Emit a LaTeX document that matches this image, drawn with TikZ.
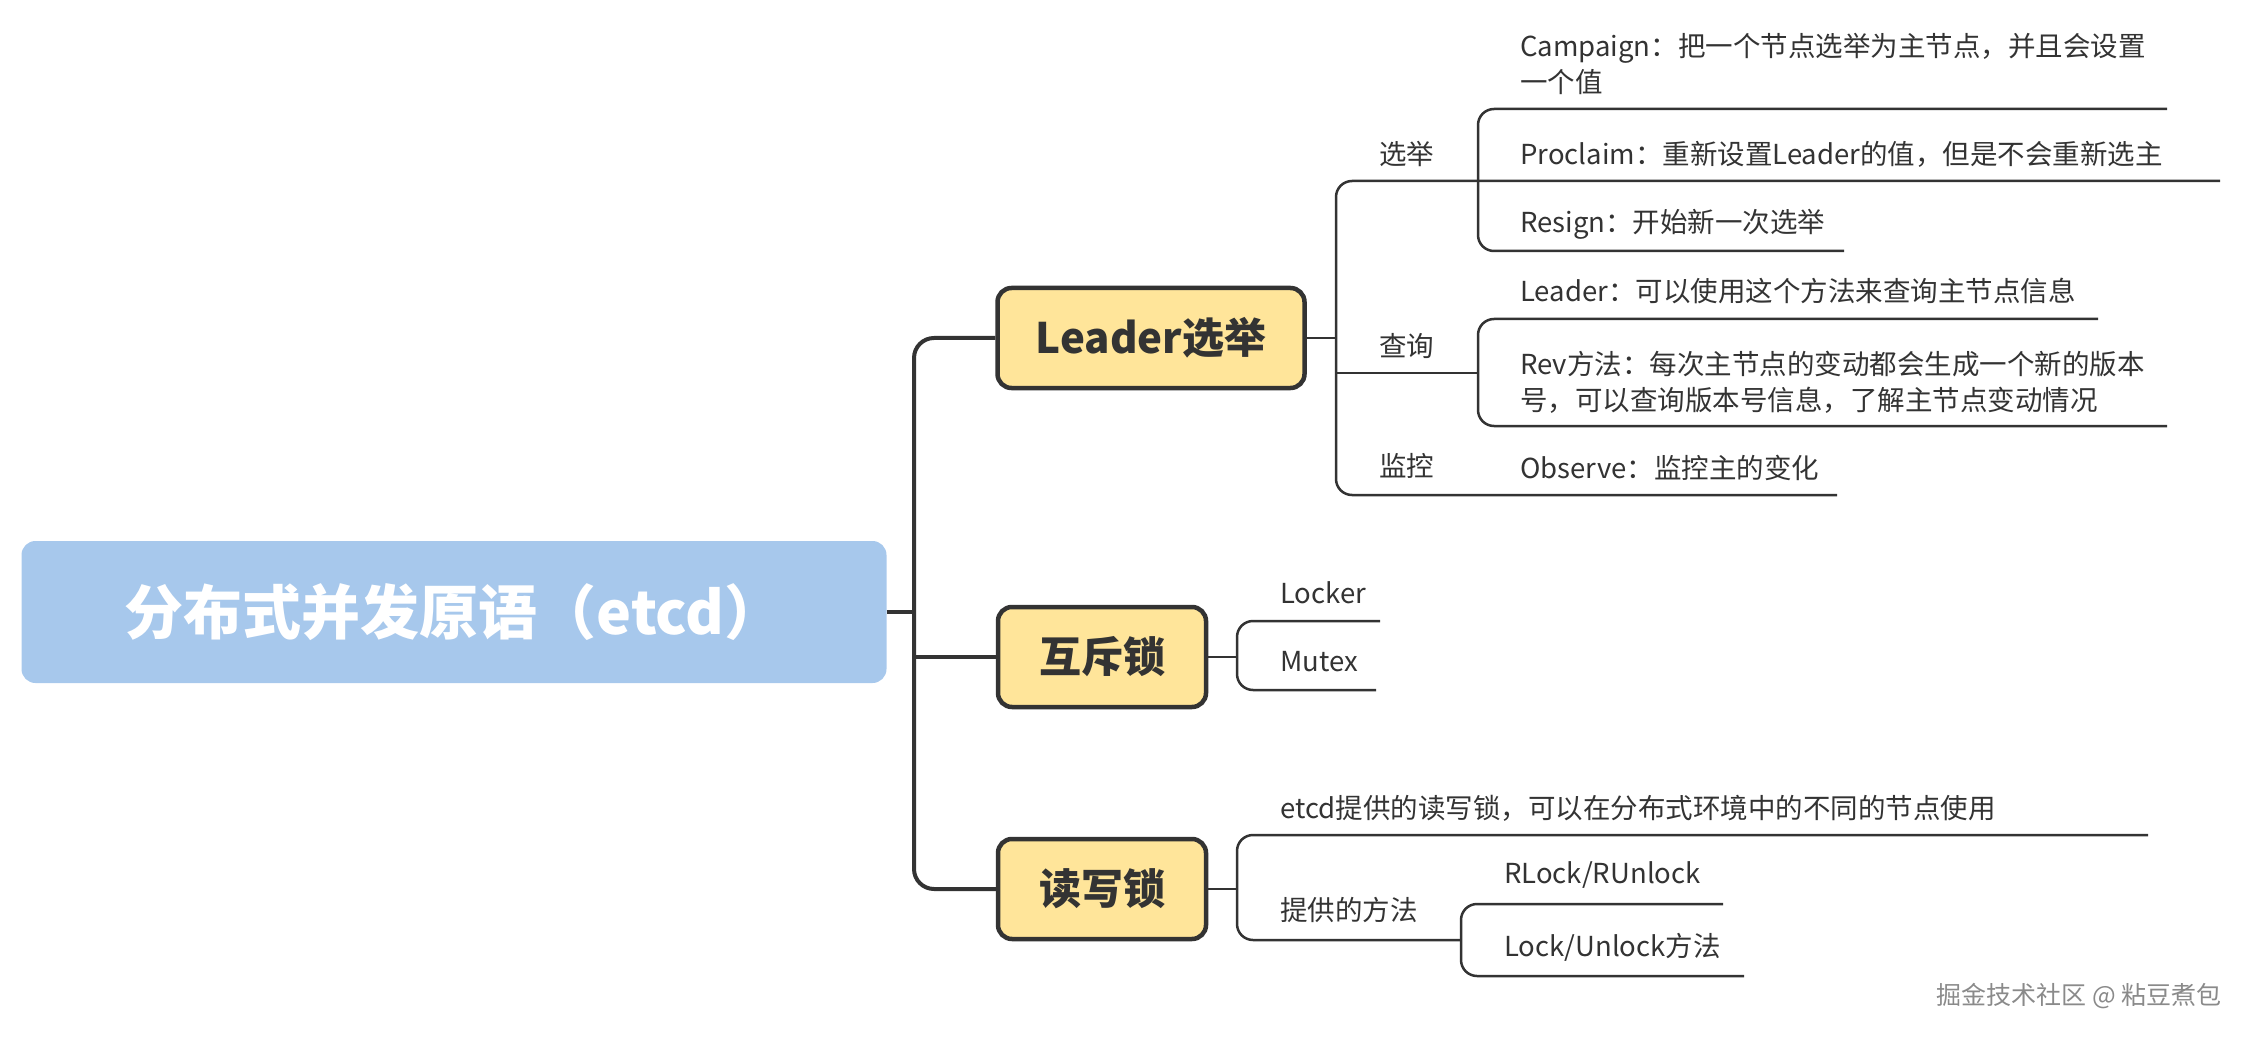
\documentclass[tikz,border=0pt]{standalone}
\usepackage{fontspec}
\setmainfont{Noto Sans CJK SC}
\definecolor{ink}{HTML}{333333}
\definecolor{rootblue}{HTML}{A7C8EC}
\definecolor{boxyellow}{HTML}{FFE59A}
\definecolor{wmgray}{HTML}{8A8A8A}
\begin{document}
\begin{tikzpicture}[x=1pt,y=-1pt,
  rootbox/.style={rounded corners=14pt, fill=rootblue, text=white, inner sep=0pt,
    font=\fontsize{59}{70}\selectfont\bfseries, minimum width=865pt, minimum height=142pt},
  topicbox/.style={rounded corners=14pt, draw=ink, line width=4.5pt, fill=boxyellow, inner sep=0pt,
    font=\fontsize{42}{50}\selectfont\bfseries, text=ink, minimum height=100pt},
  leaf/.style={anchor=west, inner sep=0pt, font=\fontsize{27.5}{36}\selectfont, text=ink, align=left},
  trunk/.style={draw=ink, line width=4pt, rounded corners=20pt},
  branch/.style={draw=ink, line width=2.5pt, rounded corners=16pt}]
\useasboundingbox (0,0) rectangle (2250,1040);

% main nodes
\node[rootbox] (root) at (454,612) {分布式并发原语（etcd）};
\node[topicbox, minimum width=307pt] (lead) at (1151,338) {Leader选举};
\node[topicbox, minimum width=208pt] (mx) at (1102,657) {互斥锁};
\node[topicbox, minimum width=208pt] (rw) at (1102,889) {读写锁};

% trunk
\coordinate (tx) at (914,0);
\draw[trunk] (root.east) -- (root.east -| tx);
\draw[trunk] (lead.west) -- (lead.west -| tx) -- (rw.west -| tx) -- (rw.west);
\draw[trunk] (mx.west) -- (mx.west -| tx);

% Leader branch
\coordinate (ax) at (1336,0);
\coordinate (bx) at (1478,0);
\coordinate (xj) at (1336,181);
\coordinate (cq) at (1336,373);
\coordinate (jk) at (1336,495);
\draw[branch] (lead.east) -- (lead.east -| ax);
\draw[branch] (2220,181) -- (xj) -- (jk) -- (1837,495);
\draw[branch] (2167,109) -- (1478,109) -- (1478,251) -- (1844,251);
\draw[branch] (cq) -- (cq -| bx);
\draw[branch] (2098,319) -- (1478,319) -- (1478,426) -- (2167,426);

\node[leaf] (xuanju) at (1379,154) {选举};
\node[leaf] (chaxun) at (1379,346) {查询};
\node[leaf] (jiankong) at (1379,466) {监控};
\node[leaf] (campaign) at (1520,64) {Campaign：把一个节点选举为主节点，并且会设置\\一个值};
\node[leaf] (proclaim) at (1520,154) {Proclaim：重新设置Leader的值，但是不会重新选主};
\node[leaf] (resign) at (1520,224) {Resign：开始新一次选举};
\node[leaf] (leaderq) at (1520,291) {Leader：可以使用这个方法来查询主节点信息};
\node[leaf] (rev) at (1520,382) {Rev方法：每次主节点的变动都会生成一个新的版本\\号，可以查询版本号信息，了解主节点变动情况};
\node[leaf] (observe) at (1520,468) {Observe：监控主的变化};

% mutex branch
\coordinate (mxj) at (1237,0);
\draw[branch] (mx.east) -- (mx.east -| mxj);
\draw[branch] (1380,621) -- (1237,621) -- (1237,690) -- (1376,690);
\node[leaf] (locker) at (1280,593) {Locker};
\node[leaf] (mutex) at (1280,662) {Mutex};

% rw branch
\draw[branch] (rw.east) -- (rw.east -| mxj);
\draw[branch] (2148,835) -- (1237,835) -- (1237,940) -- (1461,940);
\draw[branch] (1723,904) -- (1461,904) -- (1461,976) -- (1744,976);
\node[leaf] (etcdrw) at (1280,808) {etcd提供的读写锁，可以在分布式环境中的不同的节点使用};
\node[leaf] (methods) at (1280,910) {提供的方法};
\node[leaf] (rlock) at (1504,875) {RLock/RUnlock};
\node[leaf] (lock) at (1504,947) {Lock/Unlock方法};

% watermark
\node[anchor=east, inner sep=0pt, text=wmgray, font=\fontsize{25}{30}\selectfont] (wm) at (2222,996) {掘金技术社区 @ 粘豆煮包};
\end{tikzpicture}
\end{document}
